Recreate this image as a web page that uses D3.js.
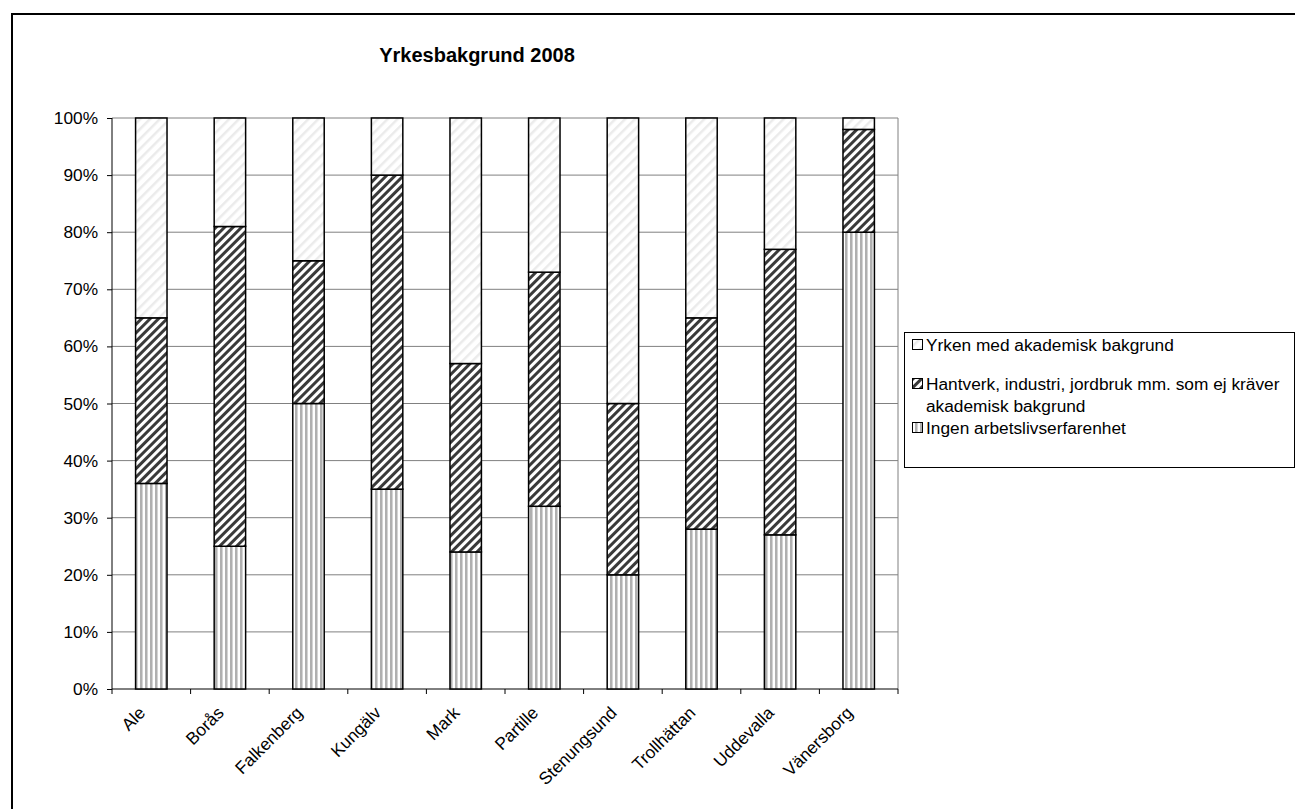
<!DOCTYPE html>
<html><head><meta charset="utf-8">
<script src="https://cdn.jsdelivr.net/npm/d3@7"></script>
<style>body{margin:0;background:#fff}svg{display:block}text{font-family:Arial,"Liberation Sans",sans-serif}</style>
</head><body>
<svg id="c" width="1295" height="809"></svg>
<script>
const categories = ["Ale","Borås","Falkenberg","Kungälv","Mark","Partille","Stenungsund","Trollhättan","Uddevalla","Vänersborg"];
const ingen = [36,25,50,35,24,32,20,28,27,80];
const hantverk = [29,56,25,55,33,41,30,37,50,18];
const akademisk = [35,19,25,10,43,27,50,35,23,2];
const seriesNames = ["Ingen arbetslivserfarenhet","Hantverk, industri, jordbruk mm. som ej kräver akademisk bakgrund","Yrken med akademisk bakgrund"];
const yTicks = [0,10,20,30,40,50,60,70,80,90,100];

const svg = d3.select("#c");
const defs = svg.append("defs");
const p1 = defs.append("pattern").attr("id","pVert").attr("patternUnits","userSpaceOnUse").attr("width",5).attr("height",5);
p1.append("rect").attr("width",5).attr("height",5).attr("fill","#fff");
p1.append("rect").attr("x",0).attr("width",2).attr("height",5).attr("fill","#b0b0b0");
p1.append("rect").attr("x",2).attr("width",1).attr("height",5).attr("fill","#d4d4d4");
const p2 = defs.append("pattern").attr("id","pDiag").attr("patternUnits","userSpaceOnUse").attr("width",6).attr("height",6).attr("patternTransform","rotate(45)");
p2.append("rect").attr("width",6).attr("height",6).attr("fill","#fff");
p2.append("rect").attr("x",0).attr("width",3).attr("height",6).attr("fill","#3a3a3a");
const p3 = defs.append("pattern").attr("id","pLight").attr("patternUnits","userSpaceOnUse").attr("width",7).attr("height",7).attr("patternTransform","rotate(45)");
p3.append("rect").attr("width",7).attr("height",7).attr("fill","#fff");
p3.append("rect").attr("x",0).attr("width",2.5).attr("height",7).attr("fill","#ebebeb");
const fills = ["url(#pVert)","url(#pDiag)","url(#pLight)"];

svg.append("rect").attr("x",12).attr("y",14).attr("width",1290).attr("height",800).attr("fill","none").attr("stroke","#000").attr("stroke-width",2);

const L=112,R=898,T=118,B=689;
const x = d3.scaleBand().domain(categories).range([L,R]).paddingInner(0.6).paddingOuter(0.3);
const xb = d3.scaleBand().domain(categories).range([L,R]);
const y = d3.scaleLinear().domain([0,100]).range([B,T]);

svg.append("line").attr("x1",R).attr("x2",R).attr("y1",T).attr("y2",B).attr("stroke","#808080");
svg.append("g").selectAll("line").data(yTicks.slice(1)).join("line")
 .attr("x1",L).attr("x2",R).attr("y1",d=>y(d)).attr("y2",d=>y(d)).attr("stroke","#808080").attr("stroke-width",1);

const ya = svg.append("g").attr("transform",`translate(${L},0)`).call(d3.axisLeft(y).tickValues(yTicks).tickSize(5).tickPadding(9).tickFormat(d=>d+"%"));
ya.select(".domain").attr("stroke","#000").attr("d",`M0,${T}V${B}`);
ya.selectAll(".tick line").attr("stroke","#000");
ya.selectAll("text").attr("font-size",17.3).attr("fill","#000").attr("font-family","Arial, 'Liberation Sans', sans-serif");

const xg = svg.append("g").attr("transform",`translate(0,${B})`);
xg.append("line").attr("x1",L).attr("x2",R).attr("stroke","#000");
const bounds = categories.map(c=>xb(c)).concat([R]);
xg.selectAll(".tk").data(bounds).join("line").attr("x1",d=>d).attr("x2",d=>d).attr("y1",0).attr("y2",5).attr("stroke","#000");
xg.selectAll("text").data(categories).join("text")
 .attr("transform",d=>`translate(${x(d)+x.bandwidth()/2-5},${25}) rotate(-45)`)
 .attr("text-anchor","end").attr("font-size",17.3).attr("fill","#000").text(d=>d);

const data = categories.map((c,i)=>({c, v:[ingen[i],hantverk[i],akademisk[i]]}));
const bars = svg.append("g");
data.forEach(d=>{
  let acc=0;
  d.v.forEach((v,k)=>{
    bars.append("rect").attr("x",x(d.c)).attr("width",x.bandwidth())
      .attr("y",y(acc+v)).attr("height",y(acc)-y(acc+v))
      .attr("fill",fills[k]).attr("stroke","#000").attr("stroke-width",1.5);
    acc+=v;
  });
});

svg.append("text").attr("x",477).attr("y",62).attr("text-anchor","middle").attr("font-size",20).attr("font-weight","bold").text("Yrkesbakgrund 2008");

const lg = svg.append("g");
lg.append("rect").attr("x",904.5).attr("y",332.5).attr("width",390).attr("height",135).attr("fill","#fff").attr("stroke","#000");
const items = [
 {k:2, lines:[seriesNames[2]], y:351},
 {k:1, lines:["Hantverk, industri, jordbruk mm. som ej kräver","akademisk bakgrund"], y:390},
 {k:0, lines:[seriesNames[0]], y:434}
];
items.forEach(it=>{
  lg.append("rect").attr("x",912.5).attr("y",it.y-11.5).attr("width",10).attr("height",10).attr("fill",fills[it.k]).attr("stroke","#000");
  it.lines.forEach((t,j)=>{
    lg.append("text").attr("x",926).attr("y",it.y+j*22).attr("font-size",17.3).text(t);
  });
});
</script>
</body></html>
